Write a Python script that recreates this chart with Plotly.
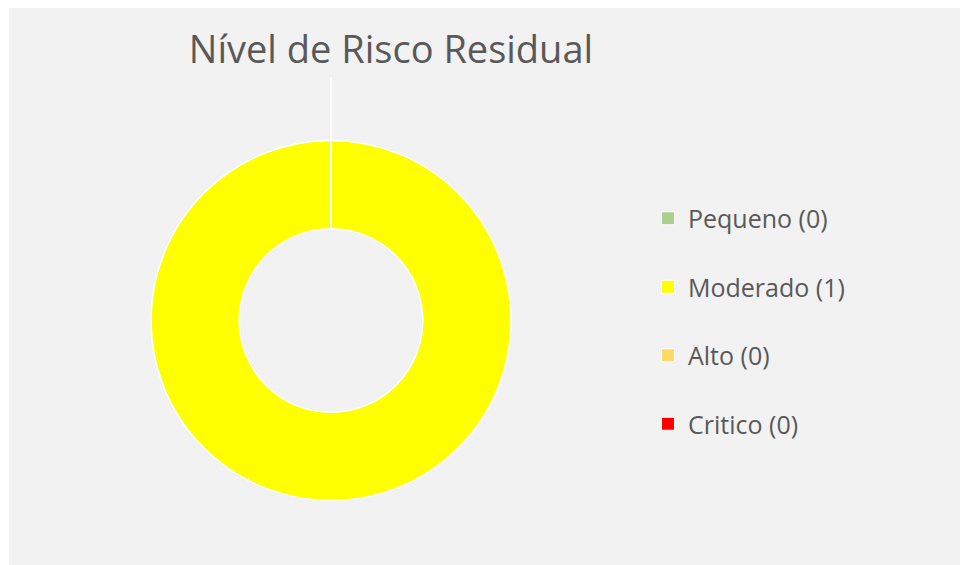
import plotly.graph_objects as go

# Data
categories = ["Pequeno", "Moderado", "Alto", "Critico"]
counts = [0, 1, 0, 0]
colors = ["#a9d18e", "#ffff00", "#ffd966", "#ff0000"]
title_text = "Nível de Risco Residual"

W, H = 960, 565


def fx(px):
    return px / W


def fy(py):
    return 1 - py / H


labels = [f"{c} ({v})" for c, v in zip(categories, counts)]

fig = go.Figure()

fig.add_trace(go.Pie(
    labels=labels,
    values=counts,
    marker=dict(colors=colors, line=dict(color="white", width=1.5)),
    hole=0.51,
    sort=False,
    direction="clockwise",
    rotation=0,
    textinfo="none",
    hoverinfo="label+value",
    showlegend=False,
    domain=dict(x=[fx(151), fx(511)], y=[fy(501), fy(140)]),
))

# Legend entries (one per category, separated groups for spacing)
for i, (lab, col) in enumerate(zip(labels, colors)):
    fig.add_trace(go.Scatter(
        x=[None], y=[None], mode="markers", name=lab,
        marker=dict(symbol="square", size=13, color=col, line=dict(color="white", width=1)),
        legendgroup=f"g{i}", showlegend=True, hoverinfo="skip",
    ))

fig.update_layout(
    width=W, height=H,
    margin=dict(l=0, r=0, t=0, b=0),
    paper_bgcolor="#f2f2f2",
    plot_bgcolor="rgba(0,0,0,0)",
    xaxis=dict(visible=False),
    yaxis=dict(visible=False),
    title=dict(
        text=title_text,
        x=fx(391), xanchor="center",
        y=fy(50), yanchor="middle", yref="container",
        font=dict(family="Open Sans", size=38, color="#595959"),
    ),
    legend=dict(
        x=fx(648), xanchor="left",
        y=fy(321), yanchor="middle",
        font=dict(family="Open Sans", size=25, color="#595959"),
        tracegroupgap=33,
        bgcolor="rgba(0,0,0,0)",
        itemclick=False, itemdoubleclick=False,
    ),
    shapes=[
        dict(type="rect", xref="paper", yref="paper", x0=0, x1=1, y0=fy(8), y1=1,
             fillcolor="white", line=dict(width=0), layer="below"),
        dict(type="rect", xref="paper", yref="paper", x0=0, x1=fx(9), y0=0, y1=1,
             fillcolor="white", line=dict(width=0), layer="below"),
        dict(type="line", xref="paper", yref="paper", x0=fx(331), x1=fx(331),
             y0=fy(77), y1=fy(228), line=dict(color="white", width=2), layer="above"),
    ],
)

fig.write_html(
    "out.html",
    config={"displayModeBar": False},
    post_script="document.body.style.margin='0';document.body.style.overflow='hidden';",
)
